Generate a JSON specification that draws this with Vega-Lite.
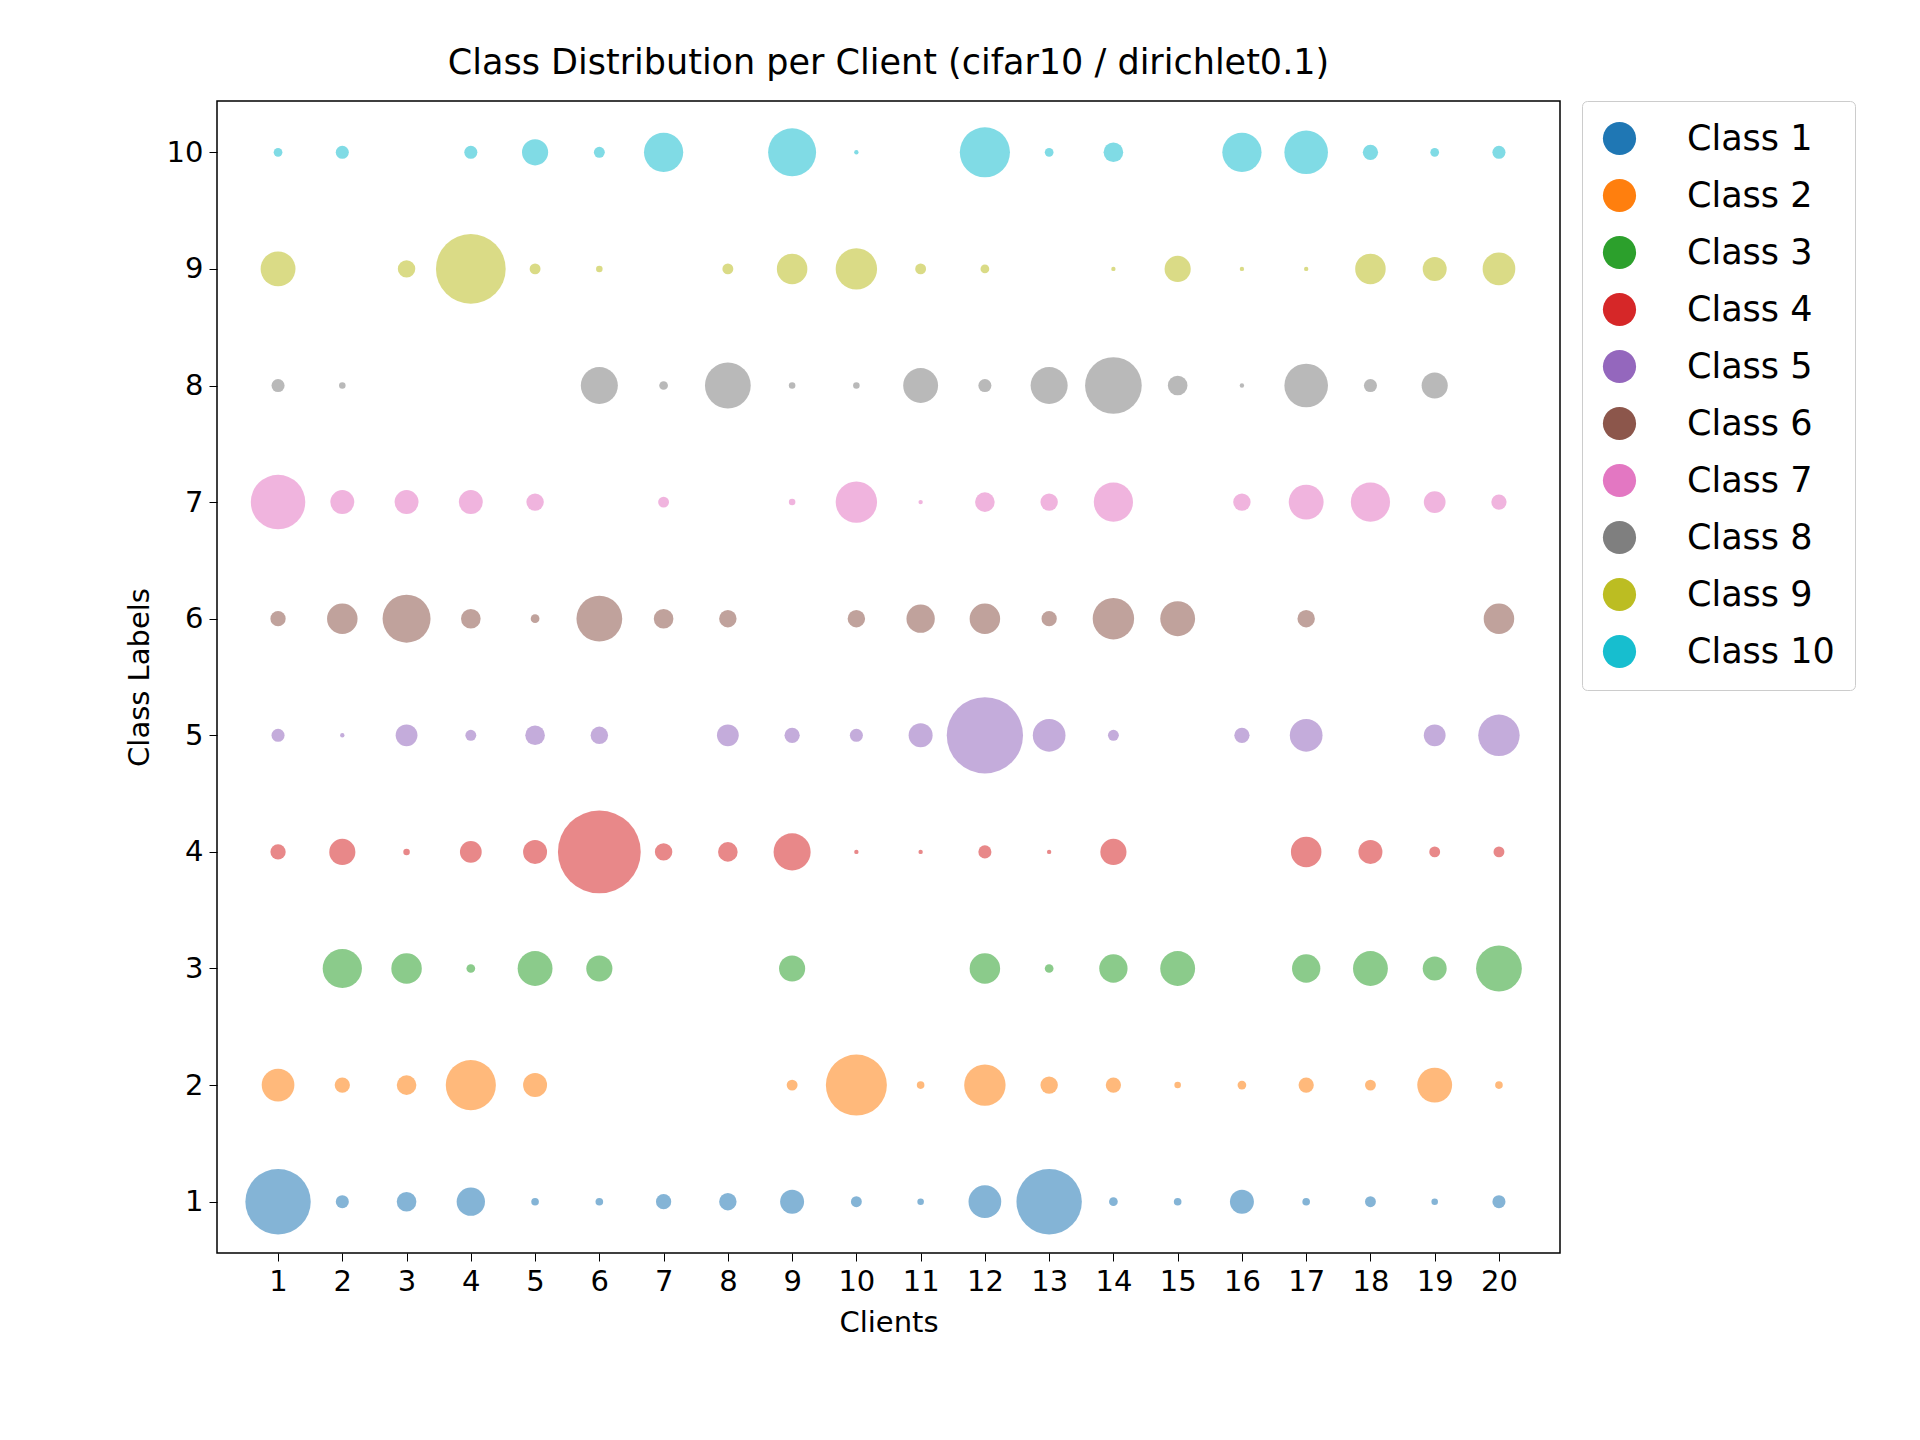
{
  "$schema": "https://vega.github.io/schema/vega-lite/v6.json",
  "width": 1343,
  "height": 1152,
  "padding": {"left": 125, "top": 45, "right": 20, "bottom": 20},
  "background": "white",
  "config": {
    "font": "DejaVu Sans",
    "view": {"stroke": "black", "strokeWidth": 1.5},
    "axis": {"grid": false, "domain": false, "tickColor": "black", "tickSize": 8, "labelFontSize": 29, "titleFontSize": 29, "labelColor": "black", "titleColor": "black", "titleFontWeight": "normal", "labelPadding": 6, "titlePadding": 12}
  },
  "title": {"text": "Class Distribution per Client (cifar10 / dirichlet0.1)", "fontSize": 35, "fontWeight": "normal", "offset": 20},
  "data": {"values": [
    {"client":1,"cls":1,"d":60},{"client":2,"cls":1,"d":12},{"client":3,"cls":1,"d":18},{"client":4,"cls":1,"d":26},{"client":5,"cls":1,"d":7},{"client":6,"cls":1,"d":7},{"client":7,"cls":1,"d":14},{"client":8,"cls":1,"d":16},{"client":9,"cls":1,"d":22},{"client":10,"cls":1,"d":10},{"client":11,"cls":1,"d":6},{"client":12,"cls":1,"d":30},{"client":13,"cls":1,"d":60},{"client":14,"cls":1,"d":8},{"client":15,"cls":1,"d":7},{"client":16,"cls":1,"d":22},{"client":17,"cls":1,"d":7},{"client":18,"cls":1,"d":10},{"client":19,"cls":1,"d":6},{"client":20,"cls":1,"d":12},
    {"client":1,"cls":2,"d":30},{"client":2,"cls":2,"d":14},{"client":3,"cls":2,"d":18},{"client":4,"cls":2,"d":46},{"client":5,"cls":2,"d":22},{"client":9,"cls":2,"d":10},{"client":10,"cls":2,"d":56},{"client":11,"cls":2,"d":7},{"client":12,"cls":2,"d":38},{"client":13,"cls":2,"d":16},{"client":14,"cls":2,"d":14},{"client":15,"cls":2,"d":6},{"client":16,"cls":2,"d":8},{"client":17,"cls":2,"d":14},{"client":18,"cls":2,"d":10},{"client":19,"cls":2,"d":32},{"client":20,"cls":2,"d":7},
    {"client":2,"cls":3,"d":36},{"client":3,"cls":3,"d":28},{"client":4,"cls":3,"d":8},{"client":5,"cls":3,"d":32},{"client":6,"cls":3,"d":24},{"client":9,"cls":3,"d":24},{"client":12,"cls":3,"d":28},{"client":13,"cls":3,"d":8},{"client":14,"cls":3,"d":26},{"client":15,"cls":3,"d":32},{"client":17,"cls":3,"d":26},{"client":18,"cls":3,"d":32},{"client":19,"cls":3,"d":22},{"client":20,"cls":3,"d":42},
    {"client":1,"cls":4,"d":14},{"client":2,"cls":4,"d":24},{"client":3,"cls":4,"d":6},{"client":4,"cls":4,"d":20},{"client":5,"cls":4,"d":22},{"client":6,"cls":4,"d":76},{"client":7,"cls":4,"d":16},{"client":8,"cls":4,"d":18},{"client":9,"cls":4,"d":34},{"client":10,"cls":4,"d":4},{"client":11,"cls":4,"d":4},{"client":12,"cls":4,"d":12},{"client":13,"cls":4,"d":4},{"client":14,"cls":4,"d":24},{"client":17,"cls":4,"d":28},{"client":18,"cls":4,"d":22},{"client":19,"cls":4,"d":10},{"client":20,"cls":4,"d":10},
    {"client":1,"cls":5,"d":12},{"client":2,"cls":5,"d":4},{"client":3,"cls":5,"d":20},{"client":4,"cls":5,"d":10},{"client":5,"cls":5,"d":18},{"client":6,"cls":5,"d":16},{"client":8,"cls":5,"d":20},{"client":9,"cls":5,"d":14},{"client":10,"cls":5,"d":12},{"client":11,"cls":5,"d":22},{"client":12,"cls":5,"d":70},{"client":13,"cls":5,"d":30},{"client":14,"cls":5,"d":10},{"client":16,"cls":5,"d":14},{"client":17,"cls":5,"d":30},{"client":19,"cls":5,"d":20},{"client":20,"cls":5,"d":38},
    {"client":1,"cls":6,"d":14},{"client":2,"cls":6,"d":28},{"client":3,"cls":6,"d":44},{"client":4,"cls":6,"d":18},{"client":5,"cls":6,"d":8},{"client":6,"cls":6,"d":42},{"client":7,"cls":6,"d":18},{"client":8,"cls":6,"d":16},{"client":10,"cls":6,"d":16},{"client":11,"cls":6,"d":26},{"client":12,"cls":6,"d":28},{"client":13,"cls":6,"d":14},{"client":14,"cls":6,"d":38},{"client":15,"cls":6,"d":32},{"client":17,"cls":6,"d":16},{"client":20,"cls":6,"d":28},
    {"client":1,"cls":7,"d":50},{"client":2,"cls":7,"d":22},{"client":3,"cls":7,"d":22},{"client":4,"cls":7,"d":22},{"client":5,"cls":7,"d":16},{"client":7,"cls":7,"d":10},{"client":9,"cls":7,"d":6},{"client":10,"cls":7,"d":38},{"client":11,"cls":7,"d":4},{"client":12,"cls":7,"d":18},{"client":13,"cls":7,"d":16},{"client":14,"cls":7,"d":36},{"client":16,"cls":7,"d":16},{"client":17,"cls":7,"d":32},{"client":18,"cls":7,"d":36},{"client":19,"cls":7,"d":20},{"client":20,"cls":7,"d":14},
    {"client":1,"cls":8,"d":12},{"client":2,"cls":8,"d":6},{"client":6,"cls":8,"d":34},{"client":7,"cls":8,"d":8},{"client":8,"cls":8,"d":42},{"client":9,"cls":8,"d":6},{"client":10,"cls":8,"d":6},{"client":11,"cls":8,"d":32},{"client":12,"cls":8,"d":12},{"client":13,"cls":8,"d":34},{"client":14,"cls":8,"d":52},{"client":15,"cls":8,"d":18},{"client":16,"cls":8,"d":4},{"client":17,"cls":8,"d":40},{"client":18,"cls":8,"d":12},{"client":19,"cls":8,"d":24},
    {"client":1,"cls":9,"d":32},{"client":3,"cls":9,"d":16},{"client":4,"cls":9,"d":64},{"client":5,"cls":9,"d":10},{"client":6,"cls":9,"d":6},{"client":8,"cls":9,"d":10},{"client":9,"cls":9,"d":28},{"client":10,"cls":9,"d":38},{"client":11,"cls":9,"d":10},{"client":12,"cls":9,"d":8},{"client":14,"cls":9,"d":4},{"client":15,"cls":9,"d":24},{"client":16,"cls":9,"d":4},{"client":17,"cls":9,"d":4},{"client":18,"cls":9,"d":28},{"client":19,"cls":9,"d":22},{"client":20,"cls":9,"d":30},
    {"client":1,"cls":10,"d":8},{"client":2,"cls":10,"d":12},{"client":4,"cls":10,"d":12},{"client":5,"cls":10,"d":24},{"client":6,"cls":10,"d":10},{"client":7,"cls":10,"d":36},{"client":9,"cls":10,"d":44},{"client":10,"cls":10,"d":4},{"client":12,"cls":10,"d":46},{"client":13,"cls":10,"d":8},{"client":14,"cls":10,"d":18},{"client":16,"cls":10,"d":36},{"client":17,"cls":10,"d":40},{"client":18,"cls":10,"d":14},{"client":19,"cls":10,"d":8},{"client":20,"cls":10,"d":12}
  ]},
  "transform": [{"calculate": "'Class ' + datum.cls", "as": "label"}],
  "mark": {"type": "circle", "opacity": 0.55},
  "encoding": {
    "x": {"field": "client", "type": "quantitative", "title": "Clients",
      "scale": {"domain": [0.05, 20.95], "nice": false, "zero": false},
      "axis": {"values": [1,2,3,4,5,6,7,8,9,10,11,12,13,14,15,16,17,18,19,20], "format": "d", "labelFlush": false}},
    "y": {"field": "cls", "type": "quantitative", "title": "Class Labels",
      "scale": {"domain": [0.56, 10.44], "nice": false, "zero": false},
      "axis": {"values": [1,2,3,4,5,6,7,8,9,10], "format": "d", "labelFlush": false}},
    "size": {"field": "d", "type": "quantitative", "legend": null,
      "scale": {"type": "pow", "exponent": 2, "domain": [0, 80], "range": [0, 7600]}},
    "color": {"field": "label", "type": "nominal", "title": null,
      "sort": ["Class 1","Class 2","Class 3","Class 4","Class 5","Class 6","Class 7","Class 8","Class 9","Class 10"],
      "scale": {"range": ["#1f77b4","#ff7f0e","#2ca02c","#d62728","#9467bd","#8c564b","#e377c2","#7f7f7f","#bcbd22","#17becf"]},
      "legend": {"orient": "right", "offset": 22, "labelFontSize": 35, "symbolSize": 1100, "symbolType": "circle", "symbolOpacity": 1, "symbolStrokeWidth": 0, "rowPadding": 21, "labelOffset": 50, "padding": 20, "strokeColor": "#cccccc", "cornerRadius": 5, "labelColor": "black"}}
  }
}
